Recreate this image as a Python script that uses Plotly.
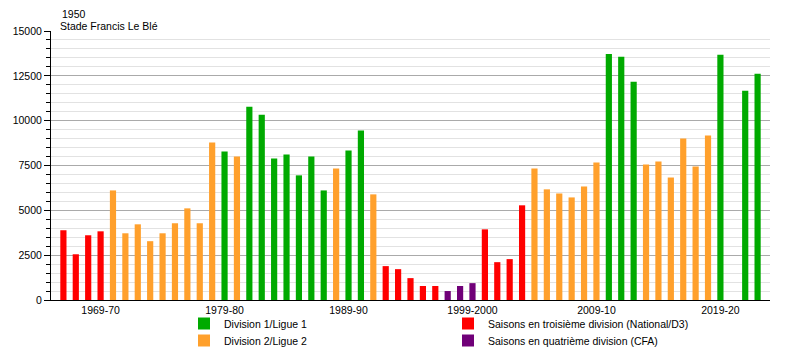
import plotly.graph_objects as go

seasons = [
    "1966-67", "1967-68", "1968-69", "1969-70", "1970-71", "1971-72", "1972-73", "1973-74",
    "1974-75", "1975-76", "1976-77", "1977-78", "1978-79", "1979-80", "1980-81", "1981-82",
    "1982-83", "1983-84", "1984-85", "1985-86", "1986-87", "1987-88", "1988-89", "1989-90",
    "1990-91", "1991-92", "1992-93", "1993-94", "1994-95", "1995-96", "1996-97", "1997-98",
    "1998-99", "1999-2000", "2000-01", "2001-02", "2002-03", "2003-04", "2004-05", "2005-06",
    "2006-07", "2007-08", "2008-09", "2009-10", "2010-11", "2011-12", "2012-13", "2013-14",
    "2014-15", "2015-16", "2016-17", "2017-18", "2018-19", "2019-20", "2020-21", "2021-22",
    "2022-23",
]

attendance = [
    3890, 2550, 3610, 3830, 6110, 3720, 4220, 3280,
    3720, 4280, 5110, 4280, 8780, 8280, 8000, 10780,
    10330, 7890, 8110, 6950, 8000, 6110, 7330, 8330,
    9450, 5890, 1890, 1720, 1220, 780, 780, 500,
    780, 940, 3940, 2110, 2280, 5280, 7330, 6170,
    5940, 5720, 6330, 7670, 13720, 13560, 12170, 7560,
    7720, 6830, 9000, 7440, 9170, 13670, None, 11670,
    12610,
]

division = [
    "D3", "D3", "D3", "D3", "D2", "D2", "D2", "D2",
    "D2", "D2", "D2", "D2", "D2", "D1", "D2", "D1",
    "D1", "D1", "D1", "D1", "D1", "D1", "D2", "D1",
    "D1", "D2", "D3", "D3", "D3", "D3", "D3", "D4",
    "D4", "D4", "D3", "D3", "D3", "D3", "D2", "D2",
    "D2", "D2", "D2", "D2", "D1", "D1", "D1", "D2",
    "D2", "D2", "D2", "D2", "D2", "D1", "D1", "D1",
    "D1",
]

tick_labels = ["1969-70", "1979-80", "1989-90", "1999-2000", "2009-10", "2019-20"]

div_names = {
    "D1": "Division 1/Ligue 1",
    "D2": "Division 2/Ligue 2",
    "D3": "Saisons en troisième division (National/D3)",
    "D4": "Saisons en quatrième division (CFA)",
}
div_colors = {"D1": "#00AA00", "D2": "#FFA02C", "D3": "#FF0000", "D4": "#700078"}
div_legend = {"D1": "legend", "D2": "legend2", "D3": "legend3", "D4": "legend4"}

FONT = "Liberation Sans, Arial, sans-serif"
FS = 10.5

fig = go.Figure()
for key in ["D1", "D2", "D3", "D4"]:
    xs = [s for s, d in zip(seasons, division) if d == key]
    ys = [v for v, d in zip(attendance, division) if d == key]
    fig.add_trace(go.Bar(
        x=xs, y=ys, name=div_names[key], width=0.5,
        marker=dict(color=div_colors[key], line=dict(width=0)),
        legend=div_legend[key], hoverinfo="x+y",
    ))

W, H = 800, 350
L, R, T, B = 51, 30, 31, 50
pw = W - L - R
ph = H - T - B


def leg(x_px, row_center_px):
    return dict(
        x=(x_px - L) / pw, y=(300 - (row_center_px - 15)) / ph,
        xanchor="left", yanchor="top", orientation="v",
        font=dict(size=FS), tracegroupgap=0, bgcolor="rgba(0,0,0,0)",
    )


fig.update_layout(
    width=W, height=H,
    margin=dict(l=L, r=R, t=T, b=B, pad=0, autoexpand=False),
    paper_bgcolor="white", plot_bgcolor="white",
    barmode="overlay",
    font=dict(family=FONT, size=FS, color="#000000"),
    showlegend=True,
    legend=leg(184, 324),
    legend2=leg(184, 341),
    legend3=leg(448, 324),
    legend4=leg(448, 341),
    xaxis=dict(
        type="category", categoryorder="array", categoryarray=seasons,
        range=[-1, len(seasons)], tickmode="array", tickvals=tick_labels,
        ticktext=tick_labels, showgrid=False, ticks="", showline=True,
        linecolor="#000000", linewidth=1, tickangle=0,
        tickfont=dict(size=FS, color="#000000"), zeroline=False,
    ),
    yaxis=dict(
        range=[0, 15000], tickmode="linear", tick0=0, dtick=2500,
        tickformat="d",
        showgrid=True, gridcolor="#AAAAAA", gridwidth=1,
        ticks="outside", ticklen=6, tickcolor="#000000", tickwidth=1,
        showline=True, linecolor="#000000", linewidth=1, zeroline=False,
        tickfont=dict(size=FS, color="#000000"),
        minor=dict(dtick=500, showgrid=True, gridcolor="#E2E2E2", gridwidth=1,
                   ticks="outside", ticklen=4, tickcolor="#000000"),
    ),
)

fig.add_annotation(text="1950", xref="paper", yref="paper",
                   x=(60 - L) / pw, y=(300 - 14) / ph, xanchor="left", yanchor="middle",
                   showarrow=False, font=dict(size=FS, color="#000000"))
fig.add_annotation(text="Stade Francis Le Blé", xref="paper", yref="paper",
                   x=(58 - L) / pw, y=(300 - 26) / ph, xanchor="left", yanchor="middle",
                   showarrow=False, font=dict(size=FS, color="#000000"))

fig.write_html("out.html")
